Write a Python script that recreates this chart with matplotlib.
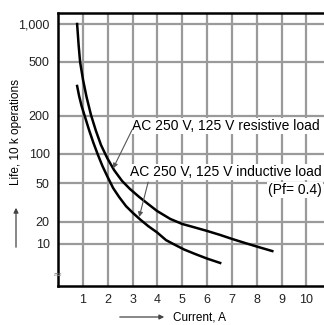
import numpy as np
import matplotlib
matplotlib.use('Agg')
import matplotlib.pyplot as plt
from matplotlib.patches import FancyArrowPatch

plt.rcParams['font.family'] = ['Liberation Sans', 'DejaVu Sans']

# data (current in A, life in 10k operations)
resistive_x = [0.77, 0.83, 0.89, 1.01, 1.15, 1.33, 1.53, 1.73, 1.98, 2.26, 2.58, 2.90, 3.27, 3.63,
               3.99, 4.52, 5.0, 5.52, 6.0, 6.53, 7.02, 7.54, 8.02, 8.63]
resistive_y = [1000, 682, 500, 368, 276, 203, 152, 118, 91, 68, 52.5, 43.4, 36, 30.5,
               25.9, 21.5, 18.8, 16.8, 15.1, 13.3, 11.7, 10.3, 9.2, 8.0]
inductive_x = [0.77, 0.85, 0.95, 1.09, 1.25, 1.43, 1.61, 1.79, 1.98, 2.22, 2.46, 2.74, 3.02, 3.31,
               3.63, 3.99, 4.35, 4.72, 5.08, 5.52, 6.01, 6.53]
inductive_y = [333, 281, 237, 196, 155, 122, 97.6, 75, 59, 44.4, 36, 29, 24.7, 21.2,
               17.6, 14.4, 11.3, 9.7, 8.4, 7.3, 6.3, 5.5]

y_ticks = [10, 20, 50, 100, 200, 500, 1000]
y_ticklabels = ['10', '20', '50', '100', '200', '500', '1,000']
x_ticks = list(range(1, 12))
x_ticklabels = [str(i) for i in range(1, 11)] + ['']

label_res = 'AC 250 V, 125 V resistive load'
label_ind = 'AC 250 V, 125 V inductive load'
label_pf = '(Pf= 0.4)'

# the printed log axis is not uniform: scale knots (log10 value -> axis height)
knot_log = [-2, 0, 1, np.log10(20), np.log10(50), 2, np.log10(200), np.log10(500), 3, 5]
knot_pos = [-177, -31, 42, 64, 103, 132, 170, 224, 262, 514]

def fwd(v):
    v = np.clip(np.asarray(v, dtype=float), 1e-3, None)
    return np.interp(np.log10(v), knot_log, knot_pos)

def inv(p):
    return 10 ** np.interp(np.asarray(p, dtype=float), knot_pos, knot_log)

W, H = 324, 325
fig = plt.figure(figsize=(W/100, H/100), dpi=100)
ax = fig.add_axes([58/W, 39/H, 298/W, 273/H])
ax.set_yscale('function', functions=(fwd, inv))
ax.set_ylim(float(inv(0)), float(inv(273)))
ax.set_xlim(0, 12)

ax.plot(resistive_x, resistive_y, color='black', lw=1.8, solid_joinstyle='round', zorder=3)
ax.plot(inductive_x, inductive_y, color='black', lw=1.8, solid_joinstyle='round', zorder=3)

ax.set_yticks(y_ticks)
ax.set_yticklabels(y_ticklabels)
ax.set_xticks(x_ticks)
ax.set_xticklabels(x_ticklabels)
ax.minorticks_off()
ax.tick_params(length=0, labelsize=9, pad=6, colors='#222222')
ax.grid(True, color='#9a9a9a', lw=1.6)
ax.set_axisbelow(True)
for s in ['left', 'bottom', 'top']:
    ax.spines[s].set_linewidth(1.8)
ax.spines['right'].set_visible(False)

# labels with leader lines
box = dict(boxstyle='square,pad=0.08', fc='white', ec='none')
arrow = dict(arrowstyle='-|>', color='#555555', lw=0.8, mutation_scale=7, shrinkA=0, shrinkB=0)
ax.text(2.98, 167, label_res, fontsize=10, ha='left', va='center', zorder=4, bbox=box)
ax.annotate('', xy=(2.22, 71), xytext=(2.98, 155), arrowprops=arrow, zorder=4)
ax.text(2.90, 65, label_ind, fontsize=10, ha='left', va='center', zorder=4, bbox=box)
ax.annotate('', xy=(3.27, 22.5), xytext=(3.63, 51), arrowprops=arrow, zorder=4)
ax.text(8.47, 42.5, label_pf, fontsize=10, ha='left', va='center', zorder=4, bbox=box)

# axis break mark
ax.text(0, inv(11), '\u2248', transform=ax.get_yaxis_transform(), ha='center', va='center',
        fontsize=8, color='#888888', family='DejaVu Sans', zorder=5)

# axis titles with arrows
fig.text(16/W, 1 - 132/H, 'Life, 10 k operations', rotation=90, ha='center', va='center', fontsize=8.5)
fig.add_artist(FancyArrowPatch((16/W, 1 - 250/H), (16/W, 1 - 205/H), transform=fig.transFigure,
                               arrowstyle='-|>', mutation_scale=7, color='#444444', lw=0.9))
fig.add_artist(FancyArrowPatch((117/W, 1 - 317/H), (167/W, 1 - 317/H), transform=fig.transFigure,
                               arrowstyle='-|>', mutation_scale=7, color='#444444', lw=0.9))
fig.text(173/W, 1 - 317/H, 'Current, A', ha='left', va='center', fontsize=8.5)

fig.savefig('out.png', dpi=100)
